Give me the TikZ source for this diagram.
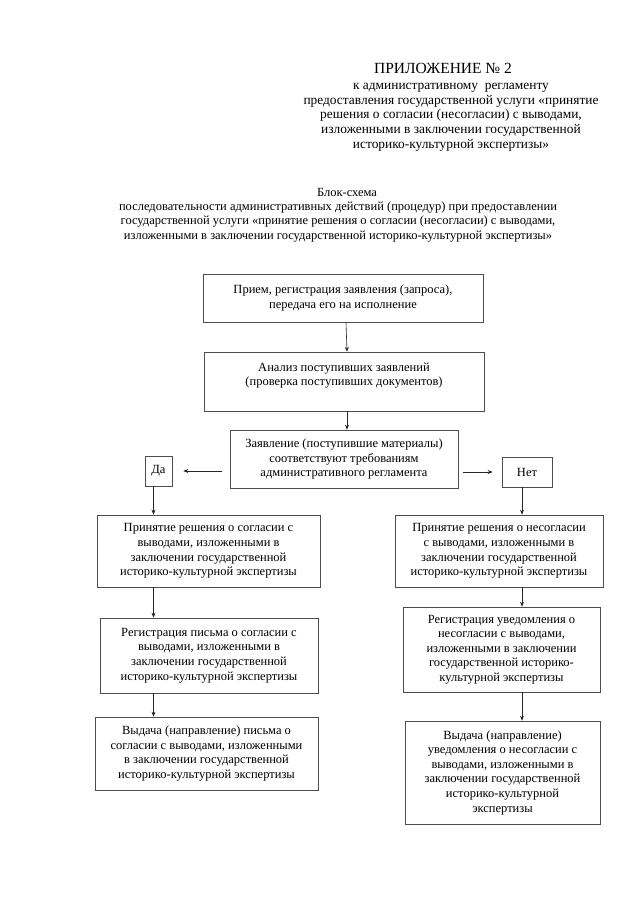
\documentclass[tikz,border=0pt]{standalone}
\usepackage{fontspec}
\setmainfont{Liberation Serif}
\usetikzlibrary{arrows.meta}

\tikzset{
  blok/.style={draw=black!70, line width=0.6pt, align=center, inner sep=2pt,
    font=\fontsize{12.5}{14.6}\selectfont},
  strelka/.style={->, draw=black!85, line width=0.6pt},
  zagolovok/.style={align=center, inner sep=0pt, font=\fontsize{12.5}{14.8}\selectfont},
}

\begin{document}
\begin{tikzpicture}[x=1pt, y=-1pt, >={Stealth[length=5pt,width=4pt]}]
\useasboundingbox (0,0) rectangle (640,905);

% heading
\node (prilozh) [zagolovok, font=\fontsize{15.5}{18}\selectfont] at (443,68) {ПРИЛОЖЕНИЕ № 2};
\node (reglament) [zagolovok, font=\fontsize{13.4}{14.7}\selectfont] at (451,117) {к административному\ \ регламенту\\
  предоставления государственной услуги «принятие\\
  решения о согласии (несогласии) с выводами,\\
  изложенными в заключении государственной\\
  историко-культурной экспертизы»};

\node (blokshema) [zagolovok] at (347,192) {Блок-схема};
\node (posled) [zagolovok] at (338,222) {последовательности административных действий (процедур) при предоставлении\\
  государственной услуги «принятие решения о согласии (несогласии) с выводами,\\
  изложенными в заключении государственной историко-культурной экспертизы»};

% boxes
\node (priem) [blok, minimum width=280pt, minimum height=48pt] at (343,298)
  {Прием, регистрация заявления (запроса),\\передача его на исполнение};
\node (analiz) [blok, minimum width=280pt, minimum height=59pt] at (344,381.5)
  {Анализ поступивших заявлений\\(проверка поступивших документов)\\~};
\node (zayav) [blok, minimum width=228pt, minimum height=58pt] at (344,459)
  {Заявление (поступившие материалы)\\соответствуют требованиям\\административного регламента};
\node (da) [blok, minimum width=27pt, minimum height=30pt] at (158.5,471) {Да};
\node (net) [blok, minimum width=50pt, minimum height=30pt] at (527,472) {Нет};

\node (l1) [blok, minimum width=223pt, minimum height=72pt] at (208.5,551)
  {Принятие решения о согласии с\\выводами, изложенными в\\заключении государственной\\историко-культурной экспертизы};
\node (l2) [blok, minimum width=218pt, minimum height=75pt] at (209,655.5)
  {Регистрация письма о согласии с\\выводами, изложенными в\\заключении государственной\\историко-культурной экспертизы};
\node (l3) [blok, minimum width=223pt, minimum height=73pt] at (206.5,753.5)
  {Выдача (направление) письма о\\согласии с выводами, изложенными\\в заключении государственной\\историко-культурной экспертизы};

\node (r1) [blok, minimum width=208pt, minimum height=72pt] at (499,551)
  {Принятие решения о несогласии\\с выводами, изложенными в\\заключении государственной\\историко-культурной экспертизы};
\node (r2) [blok, minimum width=197pt, minimum height=85pt] at (501.5,649.5)
  {Регистрация уведомления о\\несогласии с выводами,\\изложенными в заключении\\государственной историко-\\культурной экспертизы};
\node (r3) [blok, minimum width=195pt, minimum height=103pt] at (502.5,772.5)
  {Выдача (направление)\\уведомления о несогласии с\\выводами, изложенными в\\заключении государственной\\историко-культурной\\экспертизы};

\coordinate (osL) at ([xshift=-5pt]da.south);
\coordinate (osR) at ([xshift=-5pt]net.south);

% arrows
\draw [strelka] ([xshift=3pt]priem.south) -- ([xshift=3pt]analiz.north);
\draw [strelka] ([xshift=3pt]analiz.south) -- ([xshift=3pt]zayav.north);
\draw [strelka, shorten <=8pt, shorten >=11pt] (zayav.west |- da.east) -- (da.east);
\draw [strelka, shorten <=5pt, shorten >=9pt] (zayav.east |- net.west) -- (net.west);
\draw [strelka] (osL) -- (osL |- l1.north);
\draw [strelka] (l1.south -| osL) -- (l2.north -| osL);
\draw [strelka] (l2.south -| osL) -- (l3.north -| osL);
\draw [strelka] (osR) -- (osR |- r1.north);
\draw [strelka] (r1.south -| osR) -- (r2.north -| osR);
\draw [strelka] (r2.south -| osR) -- (r3.north -| osR);
\end{tikzpicture}
\end{document}
